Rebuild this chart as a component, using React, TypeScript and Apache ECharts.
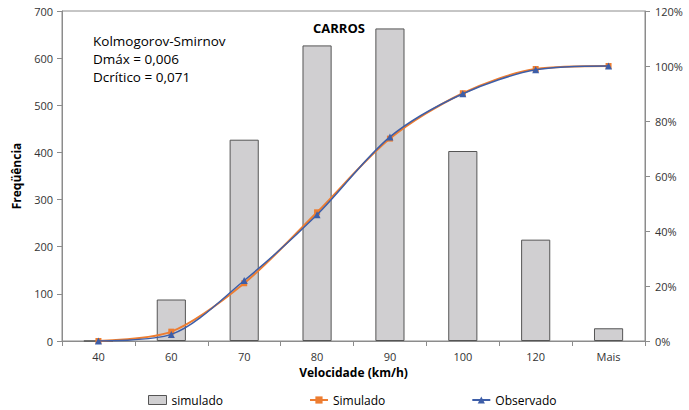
import React, { useEffect, useRef } from "react";
import * as echarts from "echarts";

const categories = ["40", "60", "70", "80", "90", "100", "120", "Mais"];
const frequencia = [0, 88, 427, 627, 663, 403, 215, 27];
const simuladoPct = [0, 3.4, 21.0, 46.8, 73.6, 90.1, 98.9, 100];
const observadoPct = [0, 2.4, 22.0, 45.9, 74.2, 89.9, 98.6, 100];
const annotationLines = ["Kolmogorov-Smirnov", "Dmáx = 0,006", "Dcrítico = 0,071"];

const FONT = "Open Sans";

export default function App() {
  const ref = useRef<HTMLDivElement>(null);
  useEffect(() => {
    if (!ref.current) return;
    const chart = echarts.init(ref.current, null, { renderer: "svg" });
    chart.setOption({
      animation: false,
      textStyle: { fontFamily: FONT },
      title: {
        text: "CARROS",
        left: 334,
        top: 16,
        textAlign: "center",
        textStyle: { fontSize: 13, fontWeight: "bold", color: "#000", fontFamily: FONT },
      },
      graphic: annotationLines.map((line, i) => ({
        type: "text",
        left: 93,
        top: 33 + i * 18,
        style: {
          text: line,
          fontSize: 13.5,
          lineHeight: 16,
          fill: "#000",
          fontFamily: FONT,
        },
      })),
      grid: {
        left: 62,
        right: 44,
        top: 11,
        bottom: 69,
        show: true,
        borderColor: "#8c8c8c",
        borderWidth: 1,
      },
      legend: {
        left: 143,
        top: 389,
        itemGap: 86,
        itemWidth: 18,
        itemHeight: 9,
        textStyle: { fontSize: 12, color: "#000", fontFamily: FONT },
        data: [
          { name: "simulado", icon: "rect", itemStyle: { color: "#d0cfd1", borderColor: "#555", borderWidth: 1 } },
          { name: "Simulado" },
          { name: "Observado" },
        ],
      },
      xAxis: {
        type: "category",
        data: categories,
        name: "Velocidade (km/h)",
        nameLocation: "middle",
        nameGap: 24,
        nameTextStyle: { fontWeight: "bold", fontSize: 12, color: "#000", fontFamily: FONT },
        axisLine: { lineStyle: { color: "#8c8c8c" } },
        axisTick: { show: true, length: 5, lineStyle: { color: "#8c8c8c" } },
        axisLabel: { fontSize: 11, color: "#333", margin: 10 },
      },
      yAxis: [
        {
          type: "value",
          min: 0,
          max: 700,
          interval: 100,
          name: "Freqüência",
          nameLocation: "middle",
          nameGap: 40,
          nameRotate: 90,
          nameTextStyle: { fontWeight: "bold", fontSize: 12, color: "#000", fontFamily: FONT },
          axisLine: { show: true, lineStyle: { color: "#8c8c8c" } },
          axisTick: { show: true, length: 5, lineStyle: { color: "#8c8c8c" } },
          axisLabel: { fontSize: 11, color: "#333", margin: 9 },
          splitLine: { show: false },
        },
        {
          type: "value",
          min: 0,
          max: 120,
          interval: 20,
          position: "right",
          axisLine: { show: true, lineStyle: { color: "#8c8c8c" } },
          axisTick: { show: true, length: 5, lineStyle: { color: "#8c8c8c" } },
          axisLabel: { fontSize: 11, color: "#333", margin: 10, formatter: "{value}%" },
          splitLine: { show: false },
        },
      ],
      series: [
        {
          name: "simulado",
          type: "bar",
          data: frequencia,
          barWidth: "40%",
          itemStyle: { color: "#d0cfd1", borderColor: "#555", borderWidth: 1 },
        },
        {
          name: "Simulado",
          type: "line",
          yAxisIndex: 1,
          data: simuladoPct,
          smooth: 0.3,
          symbol: "rect",
          symbolSize: 6,
          lineStyle: { color: "#ed7d31", width: 2 },
          itemStyle: { color: "#ed7d31" },
          z: 3,
        },
        {
          name: "Observado",
          type: "line",
          yAxisIndex: 1,
          data: observadoPct,
          smooth: 0.3,
          symbol: "triangle",
          symbolSize: 7,
          lineStyle: { color: "#3d5ea8", width: 1.5 },
          itemStyle: { color: "#3d5ea8" },
          z: 4,
        },
      ],
    });
    return () => chart.dispose();
  }, []);
  return <div ref={ref} style={{ width: 689, height: 410, position: "absolute", left: 0, top: 0 }} />;
}
